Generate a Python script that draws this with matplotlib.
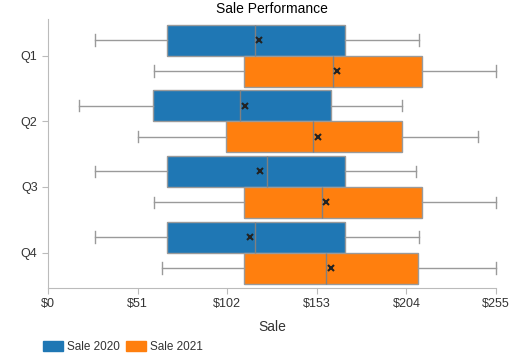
import matplotlib
matplotlib.use("Agg")
import matplotlib.pyplot as plt
from matplotlib.patches import Patch

plt.rcParams['font.family'] = ['Liberation Sans', 'DejaVu Sans']

categories = ["Q1", "Q2", "Q3", "Q4"]
series = ["Sale 2020", "Sale 2021"]
colors = ["#1f77b4", "#ff7f0e"]

# per series: whisker low, q1, median, q3, whisker high, mean
lo_2020 = [27, 17.5, 27, 27]
q1_2020 = [67.5, 59.6, 67.5, 67.5]
med_2020 = [118, 109.5, 124.8, 118]
q3_2020 = [169, 161, 169, 169]
hi_2020 = [211.3, 201.7, 209.6, 211]
mean_2020 = [119.9, 111.9, 120.7, 115]

lo_2021 = [60.5, 51, 60.5, 65]
q1_2021 = [111.5, 101.1, 111.5, 111.5]
med_2021 = [162.2, 151, 155.8, 158]
q3_2021 = [212.9, 201.7, 212.9, 210.6]
hi_2021 = [255, 244.9, 255, 255]
mean_2021 = [164.7, 153.8, 158.2, 161]

xticks = [0, 51, 102, 153, 204, 255]
xticklabels = ["$0", "$51", "$102", "$153", "$204", "$255"]

data = [
    (lo_2020, q1_2020, med_2020, q3_2020, hi_2020, mean_2020),
    (lo_2021, q1_2021, med_2021, q3_2021, hi_2021, mean_2021),
]

fig = plt.figure(figsize=(5.32, 3.55), dpi=100)
ax = fig.add_axes([48/532, 1-288/355, 448/532, 269/355])

gray = "#9a9a9a"
w = 0.472
offsets = [-0.236, 0.236]
for s, (lo, q1, med, q3, hi, mn) in enumerate(data):
    stats = []
    for i in range(len(categories)):
        stats.append(dict(whislo=lo[i], q1=q1[i], med=med[i], q3=q3[i],
                          whishi=hi[i], mean=mn[i], fliers=[]))
    pos = [i + offsets[s] for i in range(len(categories))]
    res = ax.bxp(stats, positions=pos, widths=w, vert=False, patch_artist=True,
                 showmeans=True, showfliers=False, capwidths=w * 0.36,
                 boxprops=dict(facecolor=colors[s], edgecolor=gray, linewidth=1.0),
                 medianprops=dict(color="#808080", linewidth=1.0),
                 whiskerprops=dict(color=gray, linewidth=1.0),
                 capprops=dict(color=gray, linewidth=1.0),
                 meanprops=dict(marker="x", markeredgecolor="#222222",
                                markerfacecolor="#222222", markersize=5,
                                markeredgewidth=1.5))
    for art in res["caps"] + res["whiskers"] + res["boxes"]:
        art.set_clip_on(False)

ax.set_xlim(0, 255)
ax.set_ylim(3.54, -0.556)
ax.set_yticks(range(len(categories)))
ax.set_yticklabels(categories)
ax.set_xticks(xticks)
ax.set_xticklabels(xticklabels)
ax.tick_params(axis='both', colors="#bbbbbb", labelcolor="#333333",
               labelsize=9, length=4)
for side in ["top", "right"]:
    ax.spines[side].set_visible(False)
for side in ["left", "bottom"]:
    ax.spines[side].set_color("#bbbbbb")
ax.set_xlabel("Sale", fontsize=10, color="#333333", labelpad=7)
ax.set_title("Sale Performance", fontsize=10, color="#000000", pad=4)

handles = [Patch(facecolor=c, edgecolor=c, label=l) for c, l in zip(colors, series)]
fig.legend(handles=handles, loc="lower left", bbox_to_anchor=(32/532, -0.025),
           ncol=2, frameon=False, fontsize=8.5, handlelength=1.7,
           handleheight=0.9, handletextpad=0.35, columnspacing=0.5,
           labelcolor="#333333")

fig.savefig("out.png", dpi=100)
